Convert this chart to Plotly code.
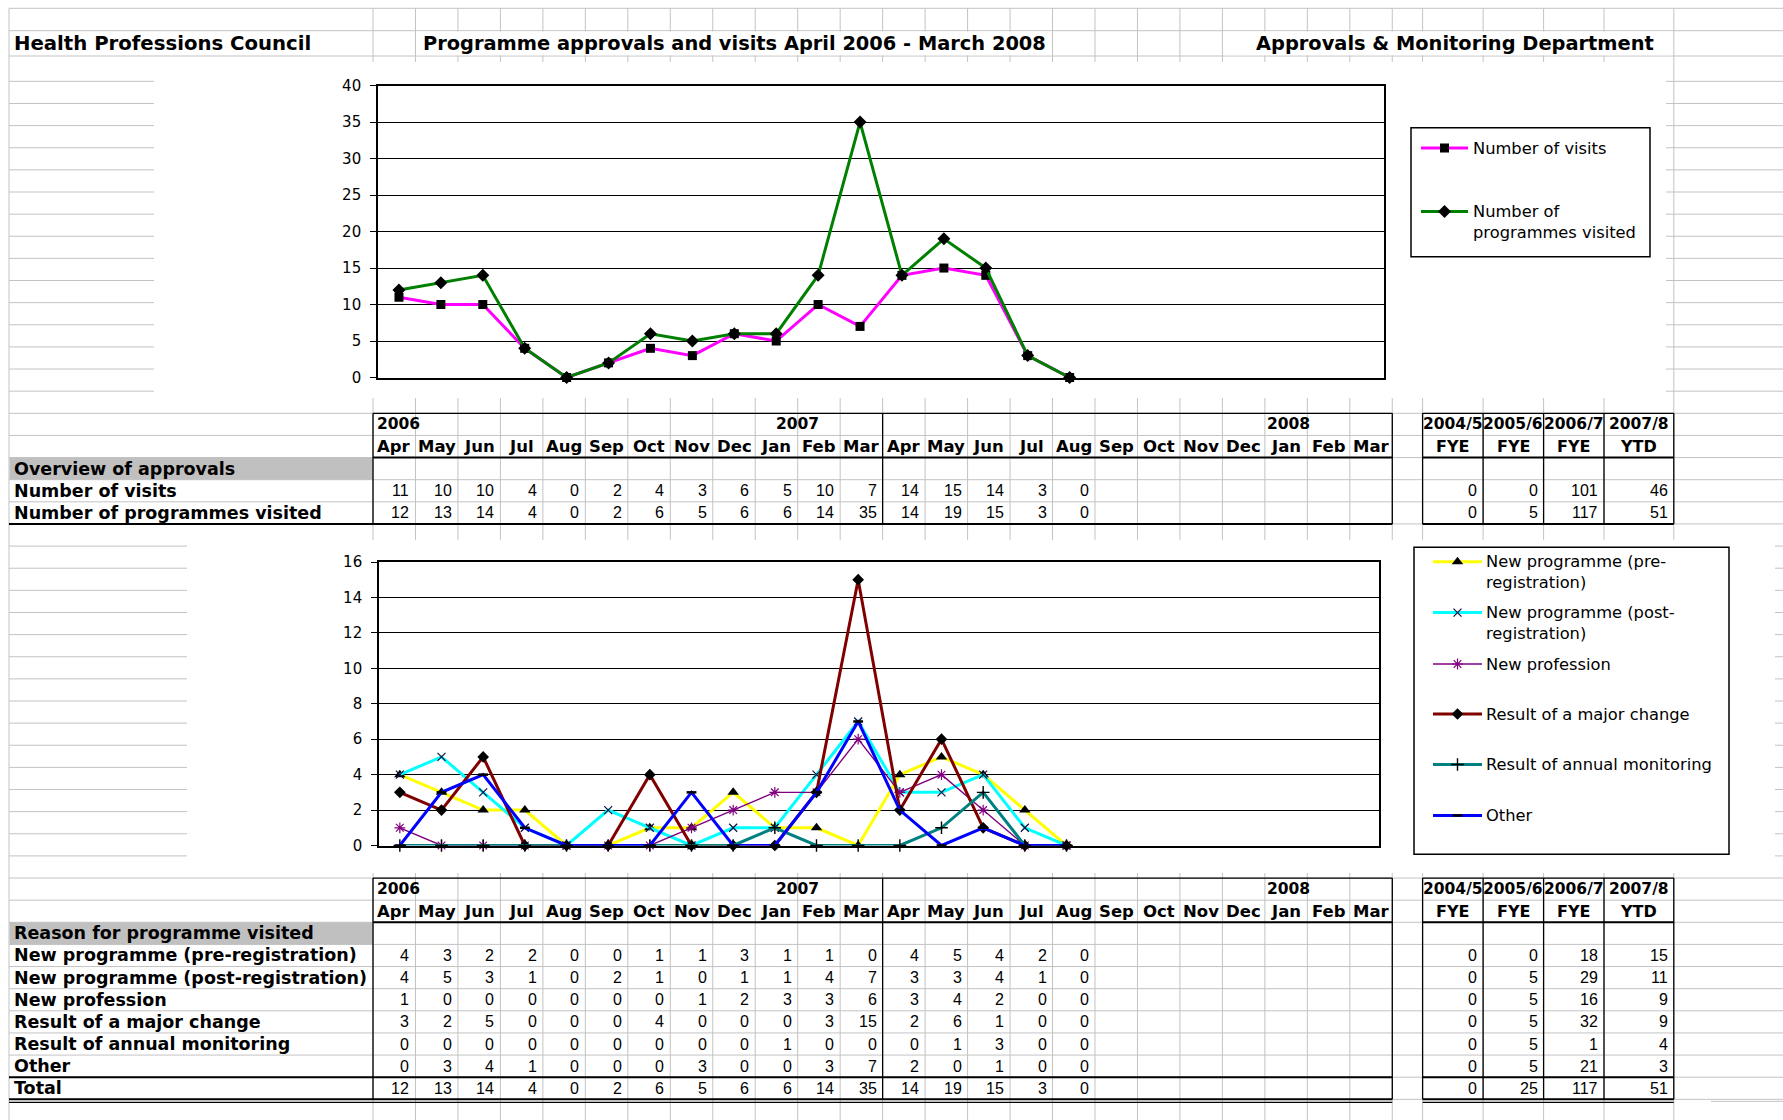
import plotly.graph_objects as go

W, H = 1783, 1120

# ---------------- data ----------------
month_names = ["Apr", "May", "Jun", "Jul", "Aug", "Sep", "Oct", "Nov", "Dec", "Jan", "Feb", "Mar"]
fy_years = [(2006, 2007), (2007, 2008)]
categories = [f"{m} {y1 if i < 9 else y2}" for (y1, y2) in fy_years for i, m in enumerate(month_names)]
year_labels = ["2006", "2007", "2008"]

title_left = "Health Professions Council"
title_mid = "Programme approvals and visits April 2006 - March 2008"
title_right = "Approvals & Monitoring Department"

fye_headers = ["2004/5", "2005/6", "2006/7", "2007/8"]
fye_sub = ["FYE", "FYE", "FYE", "YTD"]

visits = [11, 10, 10, 4, 0, 2, 4, 3, 6, 5, 10, 7, 14, 15, 14, 3, 0]
programmes = [12, 13, 14, 4, 0, 2, 6, 5, 6, 6, 14, 35, 14, 19, 15, 3, 0]
visits_fye = [0, 0, 101, 46]
programmes_fye = [0, 5, 117, 51]

pre_reg = [4, 3, 2, 2, 0, 0, 1, 1, 3, 1, 1, 0, 4, 5, 4, 2, 0]
post_reg = [4, 5, 3, 1, 0, 2, 1, 0, 1, 1, 4, 7, 3, 3, 4, 1, 0]
new_prof = [1, 0, 0, 0, 0, 0, 0, 1, 2, 3, 3, 6, 3, 4, 2, 0, 0]
major_change = [3, 2, 5, 0, 0, 0, 4, 0, 0, 0, 3, 15, 2, 6, 1, 0, 0]
annual_mon = [0, 0, 0, 0, 0, 0, 0, 0, 0, 1, 0, 0, 0, 1, 3, 0, 0]
other = [0, 3, 4, 1, 0, 0, 0, 3, 0, 0, 3, 7, 2, 0, 1, 0, 0]
total = [12, 13, 14, 4, 0, 2, 6, 5, 6, 6, 14, 35, 14, 19, 15, 3, 0]

pre_reg_fye = [0, 0, 18, 15]
post_reg_fye = [0, 5, 29, 11]
new_prof_fye = [0, 5, 16, 9]
major_change_fye = [0, 5, 32, 9]
annual_mon_fye = [0, 5, 1, 4]
other_fye = [0, 5, 21, 3]
total_fye = [0, 25, 117, 51]

reason_labels = ["New programme (pre-registration)", "New programme (post-registration)",
                 "New profession", "Result of a major change", "Result of annual monitoring",
                 "Other", "Total"]

# ---------------- geometry (pixels) ----------------
XA0, XA1 = 9, 373
COL_W = 42.47
month_edges = [XA1 + k * COL_W for k in range(25)]
month_centers = [XA1 + (k + 0.5) * COL_W for k in range(24)]
FYE_EDGES = [1422.6, 1483.1, 1543.6, 1604.0, 1673.8]
ROW_H = 22.13
T1 = 413.3
T2 = T1 + 21 * ROW_H
MBLK_R = month_edges[24]
GRID = "#c3c3c3"

BOLD = "DejaVu Sans"
NUMF = "Liberation Sans, Arial, sans-serif"

shapes = []
annotations = []


def path_shape(segs, color, width):
    d = " ".join(f"M{x0:.2f},{y0:.2f} L{x1:.2f},{y1:.2f}" for x0, y0, x1, y1 in segs)
    shapes.append(dict(type="path", path=d, xref="x", yref="y",
                       line=dict(color=color, width=width), layer="below"))


def rect(x0, y0, x1, y1, fill, lc=None, lw=0):
    shapes.append(dict(type="rect", x0=x0, y0=y0, x1=x1, y1=y1, xref="x", yref="y",
                       fillcolor=fill, line=dict(color=lc or fill, width=lw), layer="below"))


def text(x, y, s, anchor="left", size=17, bold=False, family=BOLD, color="black"):
    annotations.append(dict(x=x, y=y, xref="x", yref="y", text=s, showarrow=False,
                            xanchor=anchor, yanchor="middle", borderpad=0,
                            font=dict(family=family, size=size, color=color,
                                      weight="bold" if bold else "normal")))


# ---------------- spreadsheet gridlines ----------------
vx = [XA0] + month_edges + FYE_EDGES
hy = [8.3, 30.7, 56] + [T1 - k * ROW_H for k in range(1, 16)] + [T1 + k * ROW_H for k in range(0, 32)]
segs = [(x, 8.3, x, H) for x in vx] + [(XA0, y, W, y) for y in hy]
segs.append((1711, T1 + 31 * ROW_H + 2, W, T1 + 31 * ROW_H + 2))
path_shape(segs, GRID, 1)

# chart objects and overflowing title cells hide the sheet grid
rect(154, 62, 1666, 398, "white")
rect(187, 540, 1775, 873, "white")
rect(month_edges[1] + 1, 31.5, month_edges[16] - 1, 55.3, "white")
rect(month_edges[20] + 1, 31.5, FYE_EDGES[4] - 1, 55.3, "white")

# grey section header cells
rect(XA0 + 0.5, T1 + 2 * ROW_H, XA1, T1 + 3 * ROW_H, "#c0c0c0")
rect(XA0 + 0.5, T2 + 2 * ROW_H, XA1, T2 + 3 * ROW_H, "#c0c0c0")

# ---------------- titles ----------------
text(13, 43, title_left, "left", 19.7, True)
text((month_edges[1] + month_edges[16]) / 2, 43, title_mid, "center", 19.4, True)
text(1655, 43, title_right, "right", 19.4, True)


# ---------------- tables ----------------
def draw_table(T, section_label, rows, total_row=False):
    nrows = 3 + len(rows)
    B = T + nrows * ROW_H
    thin, thick = [], []
    thin += [(XA1, T, MBLK_R, T), (XA1, T, XA1, B), (MBLK_R, T, MBLK_R, B),
             (month_edges[12], T, month_edges[12], B)]
    thin += [(FYE_EDGES[0], T, FYE_EDGES[4], T), (FYE_EDGES[0], T, FYE_EDGES[0], B),
             (FYE_EDGES[4], T, FYE_EDGES[4], B)]
    thin += [(x, T, x, B) for x in FYE_EDGES[1:4]]
    thick += [(XA1, T + 2 * ROW_H, MBLK_R, T + 2 * ROW_H),
              (FYE_EDGES[0], T + 2 * ROW_H, FYE_EDGES[4], T + 2 * ROW_H)]
    thick += [(XA0, B, MBLK_R, B), (FYE_EDGES[0], B, FYE_EDGES[4], B)]
    if total_row:
        yt = B - ROW_H
        thick += [(XA0, yt, MBLK_R, yt), (FYE_EDGES[0], yt, FYE_EDGES[4], yt)]
        thin += [(XA0, B + 3, MBLK_R, B + 3), (FYE_EDGES[0], B + 3, FYE_EDGES[4], B + 3)]
    path_shape(thin, "black", 1.3)
    path_shape(thick, "black", 2)

    yc = [T + (k + 0.5) * ROW_H for k in range(nrows)]
    text(month_edges[0] + 3, yc[0], year_labels[0], "left", 15.5, True)
    text(month_edges[10], yc[0], year_labels[1], "center", 15.5, True)
    text(month_edges[21] + 1, yc[0], year_labels[2], "left", 15.5, True)
    for k in range(24):
        text(month_centers[k], yc[1], month_names[k % 12], "center", 16.5, True)
    for j in range(4):
        cx = (FYE_EDGES[j] + FYE_EDGES[j + 1]) / 2
        text(cx, yc[0], fye_headers[j], "center", 15.5, True)
        text(cx, yc[1], fye_sub[j], "center", 16, True)
    text(13, yc[2], section_label, "left", 17.5, True)
    for r, (label, vals, fvals) in enumerate(rows):
        y = yc[3 + r]
        text(13, y, label, "left", 17.5, True)
        for k, v in enumerate(vals):
            text(month_edges[k + 1] - 5, y, str(v), "right", 16, False, NUMF)
        for j, v in enumerate(fvals):
            text(FYE_EDGES[j + 1] - 5, y, str(v), "right", 16, False, NUMF)


draw_table(T1, "Overview of approvals",
           [("Number of visits", visits, visits_fye),
            ("Number of programmes visited", programmes, programmes_fye)])

bottom_series = [pre_reg, post_reg, new_prof, major_change, annual_mon, other, total]
bottom_fye = [pre_reg_fye, post_reg_fye, new_prof_fye, major_change_fye, annual_mon_fye, other_fye, total_fye]
draw_table(T2, "Reason for programme visited",
           [(reason_labels[i], bottom_series[i], bottom_fye[i]) for i in range(7)], total_row=True)

# ---------------- legends (frames) ----------------
rect(1411, 127.7, 1650, 256.7, "white", "black", 1.5)
rect(1414, 547.3, 1729, 854.3, "white", "black", 1.5)

fig = go.Figure()

# ---------------- top chart ----------------
top_styles = [
    ("Number of visits", visits, "#ff00ff", 3, dict(symbol="square", size=9, color="black")),
    ("Number of programmes visited", programmes, "#008000", 3, dict(symbol="diamond", size=10, color="black")),
]
for name, vals, col, lw, mk in top_styles:
    fig.add_trace(go.Scatter(x=categories[:len(vals)], y=vals, name=name, mode="lines+markers",
                             line=dict(color=col, width=lw), marker=mk, cliponaxis=False,
                             xaxis="x2", yaxis="y2", showlegend=False))

# ---------------- bottom chart ----------------
bottom_styles = [
    ("New programme (pre-registration)", pre_reg, "#ffff00", 3,
     dict(symbol="triangle-up", size=10, color="black")),
    ("New programme (post-registration)", post_reg, "#00ffff", 3,
     dict(symbol="x-thin", size=8, color="black", line=dict(width=1.2, color="#101040"))),
    ("New profession", new_prof, "#800080", 1.4,
     dict(symbol="asterisk", size=9, color="#800080", line=dict(width=1.2, color="#800080"))),
    ("Result of a major change", major_change, "#800000", 3,
     dict(symbol="diamond", size=9, color="black")),
    ("Result of annual monitoring", annual_mon, "#008080", 3,
     dict(symbol="cross-thin", size=9, color="black", line=dict(width=1.4, color="black"))),
    ("Other", other, "#0000ff", 3,
     dict(symbol="line-ew", size=7, color="black", line=dict(width=2.5, color="black"))),
]
for name, vals, col, lw, mk in bottom_styles:
    fig.add_trace(go.Scatter(x=categories[:len(vals)], y=vals, name=name, mode="lines+markers",
                             line=dict(color=col, width=lw), marker=mk, cliponaxis=False,
                             xaxis="x3", yaxis="y3", showlegend=False))


# ---------------- custom legend entries ----------------
def legend_entry(x0, x1, y, col, lw, mk, lines, tx):
    fig.add_trace(go.Scatter(x=[x0, x1], y=[y, y], mode="lines", line=dict(color=col, width=lw),
                             xaxis="x", yaxis="y", showlegend=False, hoverinfo="skip"))
    fig.add_trace(go.Scatter(x=[(x0 + x1) / 2], y=[y], mode="markers", marker=mk,
                             xaxis="x", yaxis="y", showlegend=False, hoverinfo="skip"))
    for i, s in enumerate(lines):
        text(tx, y + i * 20.5, s, "left", 16.3, False, "DejaVu Sans")


top_leg_y = [148, 211.5]
top_leg_text = [["Number of visits"], ["Number of", "programmes visited"]]
for (name, vals, col, lw, mk), y, lines in zip(top_styles, top_leg_y, top_leg_text):
    legend_entry(1421, 1468, y, col, lw, mk, lines, 1472)

bot_leg_y = [561.7, 612.6, 664, 714, 764.5, 815.5]
bot_leg_text = [["New programme (pre-", "registration)"], ["New programme (post-", "registration)"],
                ["New profession"], ["Result of a major change"], ["Result of annual monitoring"], ["Other"]]
for (name, vals, col, lw, mk), y, lines in zip(bottom_styles, bot_leg_y, bot_leg_text):
    legend_entry(1433, 1482, y, col, lw, mk, lines, 1485)


# ---------------- layout ----------------
def chart_yaxis(y0, y1, rmax, dt):
    return dict(domain=[1 - y1 / H, 1 - y0 / H], range=[0, rmax], dtick=dt, tick0=0,
                showgrid=True, gridcolor="black", gridwidth=1.4, zeroline=False,
                showline=True, linecolor="black", linewidth=1.6, mirror=True,
                ticks="outside", ticklen=6, tickwidth=1.3, tickcolor="black",
                ticklabelstandoff=6, automargin=False,
                tickfont=dict(family="DejaVu Sans", size=15, color="black"), fixedrange=True)


def chart_xaxis(x0, x1):
    return dict(domain=[x0 / W, x1 / W], type="category", categoryorder="array",
                categoryarray=categories, range=[-0.5, 23.5], showticklabels=False,
                ticks="", showgrid=False, zeroline=False, showline=True, linecolor="black",
                linewidth=1.6, mirror=True, fixedrange=True, automargin=False)


fig.update_layout(
    width=W, height=H, autosize=False,
    margin=dict(l=0, r=0, t=0, b=0, pad=0, autoexpand=False),
    paper_bgcolor="white", plot_bgcolor="white", showlegend=False,
    xaxis=dict(domain=[0, 1], range=[0, W], visible=False, fixedrange=True, automargin=False),
    yaxis=dict(domain=[0, 1], range=[H, 0], visible=False, fixedrange=True, automargin=False),
    xaxis2=dict(anchor="y2", **chart_xaxis(378, 1384)),
    yaxis2=dict(anchor="x2", **chart_yaxis(85.6, 377.5, 40, 5)),
    xaxis3=dict(anchor="y3", **chart_xaxis(379, 1379)),
    yaxis3=dict(anchor="x3", **chart_yaxis(562, 845.5, 16, 2)),
    shapes=shapes, annotations=annotations,
)

fig.write_html("out.html", include_plotlyjs=True, config={"displayModeBar": False},
               post_script="document.body.style.margin='0';document.body.style.overflow='hidden';")
